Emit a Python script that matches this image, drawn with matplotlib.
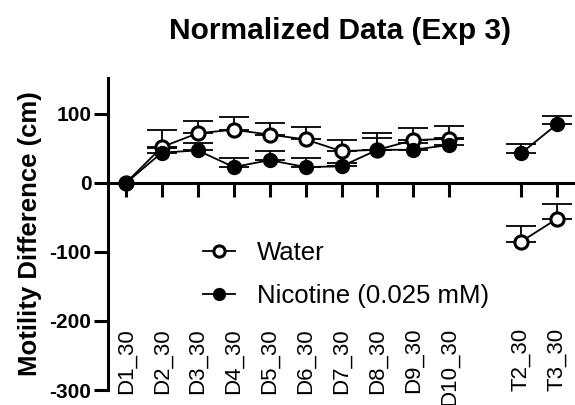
import numpy as np
import matplotlib.pyplot as plt

plt.rcParams['font.family'] = ['Liberation Sans', 'DejaVu Sans']

labels = ['D1_30', 'D2_30', 'D3_30', 'D4_30', 'D5_30', 'D6_30', 'D7_30',
          'D8_30', 'D9_30', 'D10_30', '', 'T2_30', 'T3_30']
water = [0, 52, 72, 77, 70, 63, 46, 48, 62, 64, np.nan, -85, -52]
water_err = [0, 24, 18, 19, 17, 18, 16, 25, 17, 19, 0, 22, 22]
nicotine = [0, 44, 47, 23, 33, 23, 24, 48, 48, 55, np.nan, 43, 85]
nicotine_err = [0, 6, 11, 13, 13, 13, 5, 17, 10, 10, 0, 13, 12]

x = np.arange(len(labels))

fig = plt.figure(figsize=(5.75, 4.05), dpi=100)
ax = fig.add_axes([108 / 575, 15 / 405, 467 / 575, 312 / 405])

w = np.array(water)
n = np.array(nicotine)
zero = np.zeros(len(x))
ax.errorbar(x, w, yerr=[zero, water_err], fmt='none', ecolor='black',
            elinewidth=1.3, capsize=10.5, capthick=1.3, zorder=2)
ax.errorbar(x, n, yerr=[zero, nicotine_err], fmt='none', ecolor='black',
            elinewidth=1.3, capsize=10.5, capthick=1.3, zorder=2)
ax.plot(x, w, '-o', color='black', mfc='white', mec='black', mew=2.2, ms=9.5,
        lw=1.3, label='Water', zorder=3)
ax.plot(x, n, '-o', color='black', mfc='black', mec='black', ms=10,
        lw=1.3, label='Nicotine (0.025 mM)', zorder=4)

ax.set_xlim(-0.5, 12.5)
ax.set_ylim(-300, 152)
ax.set_yticks([-300, -200, -100, 0, 100])
ax.set_yticklabels(['-300', '-200', '-100', '0', '100'], fontweight='bold', fontsize=15)
ax.set_ylabel('Motility Difference (cm)', fontweight='bold', fontsize=18.5, labelpad=5)

ax.spines['top'].set_visible(False)
ax.spines['right'].set_visible(False)
ax.spines['bottom'].set_position(('data', 0))
ax.spines['left'].set_linewidth(2.2)
ax.spines['bottom'].set_linewidth(2.2)
ax.tick_params(axis='y', width=2.2, length=10, pad=2)
ticks = [i for i in x if labels[i]]
ax.set_xticks(ticks)
ax.set_xticklabels([])
ax.tick_params(axis='x', width=2.2, length=10, direction='out')

for i in ticks:
    ax.text(i, -210, labels[i], rotation=90, ha='center', va='top',
            fontsize=16, clip_on=False)

ax.legend(loc='upper left', bbox_to_anchor=(0.203, 0.478), frameon=False,
          fontsize=18.5, handlelength=1.25, handletextpad=0.85, labelspacing=0.75,
          borderpad=0, borderaxespad=0, markerscale=0.85)

fig.suptitle('Normalized Data (Exp 3)', x=340 / 575, y=0.958, va='top',
             fontweight='bold', fontsize=21.5)

fig.savefig('out.png', dpi=100)
